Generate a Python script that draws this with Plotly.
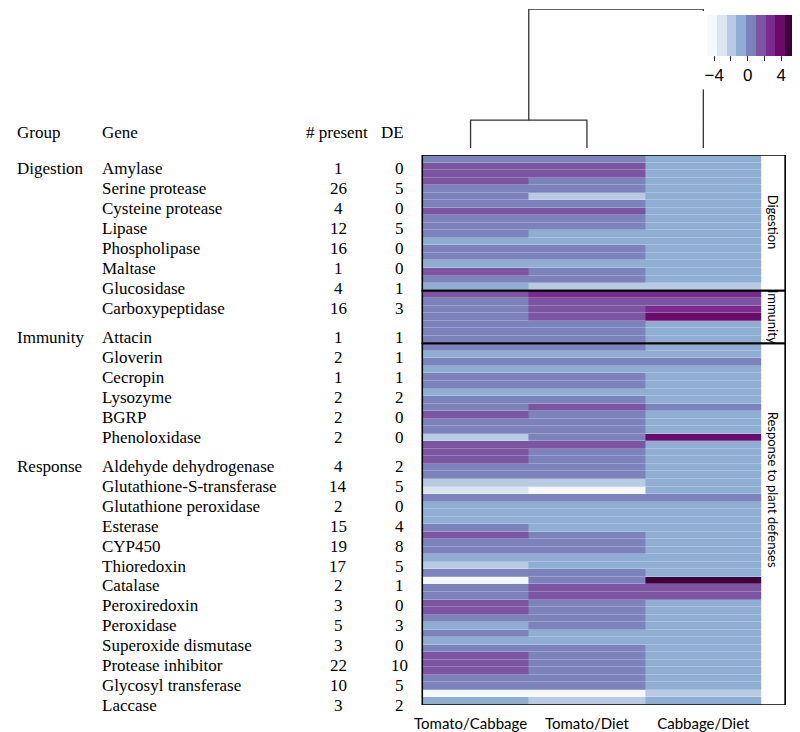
import plotly.graph_objects as go

# page is 800x732; the html body adds an 8px offset, so the figure fills the rest
OFF = 8
W, H = 800 - OFF, 732 - OFF

# ---------------- data ----------------
group_names = ["Digestion", "Immunity", "Response"]

digestion_genes = ["Amylase", "Serine protease", "Cysteine protease", "Lipase",
                   "Phospholipase", "Maltase", "Glucosidase", "Carboxypeptidase"]
digestion_present = [1, 26, 4, 12, 16, 1, 4, 16]
digestion_de = [0, 5, 0, 5, 0, 0, 1, 3]

immunity_genes = ["Attacin", "Gloverin", "Cecropin", "Lysozyme", "BGRP", "Phenoloxidase"]
immunity_present = [1, 2, 1, 2, 2, 2]
immunity_de = [1, 1, 1, 2, 0, 0]

response_genes = ["Aldehyde dehydrogenase", "Glutathione-S-transferase",
                  "Glutathione peroxidase", "Esterase", "CYP450", "Thioredoxin",
                  "Catalase", "Peroxiredoxin", "Peroxidase", "Superoxide dismutase",
                  "Protease inhibitor", "Glycosyl transferase", "Laccase"]
response_present = [4, 14, 2, 15, 19, 17, 2, 3, 5, 3, 22, 10, 3]
response_de = [2, 5, 0, 4, 8, 5, 1, 0, 3, 0, 10, 5, 2]

comparisons = ["Tomato/Cabbage", "Tomato/Diet", "Cabbage/Diet"]

# heatmap boxes (rows per box) and box labels
box_labels = ["Digestion", "Immunity", "Response to plant defenses"]
box_rows = [18, 7, 48]

# log2 fold change per transcript row (top to bottom)
tomato_cabbage = [
    0, 1.5, 1.5, 1.5, 0, 0, 0, 1.5, 0, 0, 0, -1, 0, 0, -1, 1.5, 0, -1,
    1.5, 0, 0, 0, 0, 0, 0,
    0, -1, 0, -1, 0, 0, -1, 0, 0, 1.5, 0, 0, -2, 1.5, 1.5, 1.5, 0, 0, -2, -3,
    0, -1, -1, -1, 0, 1.5, 0, 0, -1, -2, 0, -4.5, 0, 0, 1.5, 1.5, 0, -1, 0, -1,
    0, 1.5, 1.5, 1.5, 0, 0, -4.5, -1]
tomato_diet = [
    0, 1.5, 1.5, 0, 0, -2, 0, 1.5, 0, 0, -1, -1, 0, 0, -1, 0, 0, -2,
    2.5, 1.5, 1.5, 1.5, 0, 0, 0,
    0, -1, 0, -1, 0, 0, -1, 0, 1.5, 0, 0, 0, 0, 1.5, 0, 0, 0, 0, -2, -4.5,
    0, -1, -1, -1, -1, 0, 0, 0, -1, -1, 0, 0, 1.5, 1.5, 0, 0, 0, 0, -1, -1,
    0, 0, 0, 0, 0, 0, -4.5, -2]
cabbage_diet = [
    -1, -1, -1, -1, -1, -1, -1, -1, -1, -1, -1, -1, -1, -1, -1, -1, -1, -2,
    2.5, 1.5, 2.5, 4, -1, -1, -1,
    -1, -1, 0, -1, -1, -1, -1, -1, 0, -1, -1, -1, 4, -1, -1, -1, -1, -1, -1, -1,
    0, -1, -1, -1, -1, -1, -1, -1, -1, -1, -1, 5, 1.5, 1.5, -1, -1, -1, -1, -1, -1,
    -1, -1, -1, -1, -1, -1, -2, -1]

# dendrogram merge heights: (Tomato/Cabbage + Tomato/Diet), then + Cabbage/Diet
dendro_heights = [1.0, 5.0]

bupu = ["#f4f8fb", "#dce6f0", "#b8cbe3", "#90aed4", "#7b83ba",
        "#7b55a2", "#7a2c8e", "#6c0a6c", "#3d003d"]
zmin, zmax = -4.9, 5.6

# ---------------- figure ----------------
def px_x(v):
    return max(v - OFF, 0) / W

def px_y(v):
    return 1 - (v - OFF) / H

n_rows = len(tomato_cabbage)
col_idx = list(range(len(comparisons)))
z = [[tomato_cabbage[i], tomato_diet[i], cabbage_diet[i]] for i in range(n_rows)]

cs = []
for k, c in enumerate(bupu):
    cs.append([k / len(bupu), c])
    cs.append([(k + 1) / len(bupu), c])

fig = go.Figure()
fig.add_trace(go.Heatmap(
    z=z, x=col_idx, y=list(range(n_rows)),
    colorscale=cs, zmin=zmin, zmax=zmax, ygap=0.25,
    hoverinfo="skip",
    colorbar=dict(
        orientation="h", x=px_x(753), xanchor="center",
        y=px_y(11), yanchor="top",
        lenmode="pixels", len=98, thicknessmode="pixels", thickness=41,
        outlinewidth=0, bgcolor="white", xpad=5, ypad=4,
        ticks="outside", ticklen=5, tickwidth=1, tickcolor="#333",
        tickvals=[-4, -2, 0, 2, 4], ticktext=["\u22124", "", "0", "", "4"],
        tickfont=dict(family="Liberation Sans", size=17, color="black"),
    ),
))

# dendrogram
h1, h2 = dendro_heights
fig.add_trace(go.Scatter(
    x=[0, 0, 1, 1, None, 0.5, 0.5, 2, 2],
    y=[0, h1, h1, 0, None, h1, h2, h2, 0],
    mode="lines", line=dict(color="#333", width=1.3),
    xaxis="x", yaxis="y2", hoverinfo="skip", showlegend=False,
))

fig.update_layout(
    width=W, height=H, margin=dict(l=0, r=0, t=0, b=0),
    paper_bgcolor="white", plot_bgcolor="white",
    showlegend=False,
    xaxis=dict(domain=[px_x(420), px_x(764)], range=[-0.415, 2.5],
               tickmode="array", tickvals=col_idx, ticktext=comparisons,
               showgrid=False, zeroline=False, showline=False, ticks="",
               tickfont=dict(family="Lato", size=15, color="black"),
               ticklabelstandoff=8, fixedrange=True),
    yaxis=dict(domain=[px_y(705), px_y(155)], range=[n_rows - 0.5, -0.5],
               visible=False, fixedrange=True),
    yaxis2=dict(domain=[px_y(148), px_y(9)], range=[0, h2], anchor="x",
                visible=False, fixedrange=True),
)

# group boxes
start = -0.5
for lab, nr in zip(box_labels, box_rows):
    fig.add_shape(type="rect", xref="paper", yref="y",
                  x0=px_x(420), x1=px_x(788), y0=start, y1=start + nr,
                  line=dict(color="black", width=1.6), fillcolor="rgba(0,0,0,0)")
    start += nr

box_label_y = [222, 317, 490]
for lab, yy in zip(box_labels, box_label_y):
    fig.add_annotation(x=px_x(776), y=px_y(yy), xref="paper", yref="paper",
                       text=lab, textangle=90, showarrow=False,
                       font=dict(family="Lato", size=13, color="black"),
                       xanchor="center", yanchor="middle")

# table
serif = dict(family="Liberation Serif", size=17, color="black")
def ann(x, y, text, anchor):
    fig.add_annotation(x=px_x(x), y=px_y(y), xref="paper", yref="paper",
                       text=text, showarrow=False, font=serif,
                       xanchor=anchor, yanchor="middle", borderpad=0)

ann(3, 132, "Group", "left")
ann(94, 132, "Gene", "left")
ann(334, 132, "# present", "center")
ann(390, 132, "DE", "center")

tables = [(digestion_genes, digestion_present, digestion_de),
          (immunity_genes, immunity_present, immunity_de),
          (response_genes, response_present, response_de)]
y = 169.0
step = 19.9
for gi, (gname, (gl, pl, dl)) in enumerate(zip(group_names, tables)):
    if gi > 0:
        y += 9.5
    for j, (g, p, d) in enumerate(zip(gl, pl, dl)):
        if j == 0:
            ann(3, y, gname, "left")
        ann(94, y, g, "left")
        ann(335, y, str(p), "center")
        ann(397, y, str(d), "center")
        y += step

fig.write_html("out.html", config={"displayModeBar": False})
